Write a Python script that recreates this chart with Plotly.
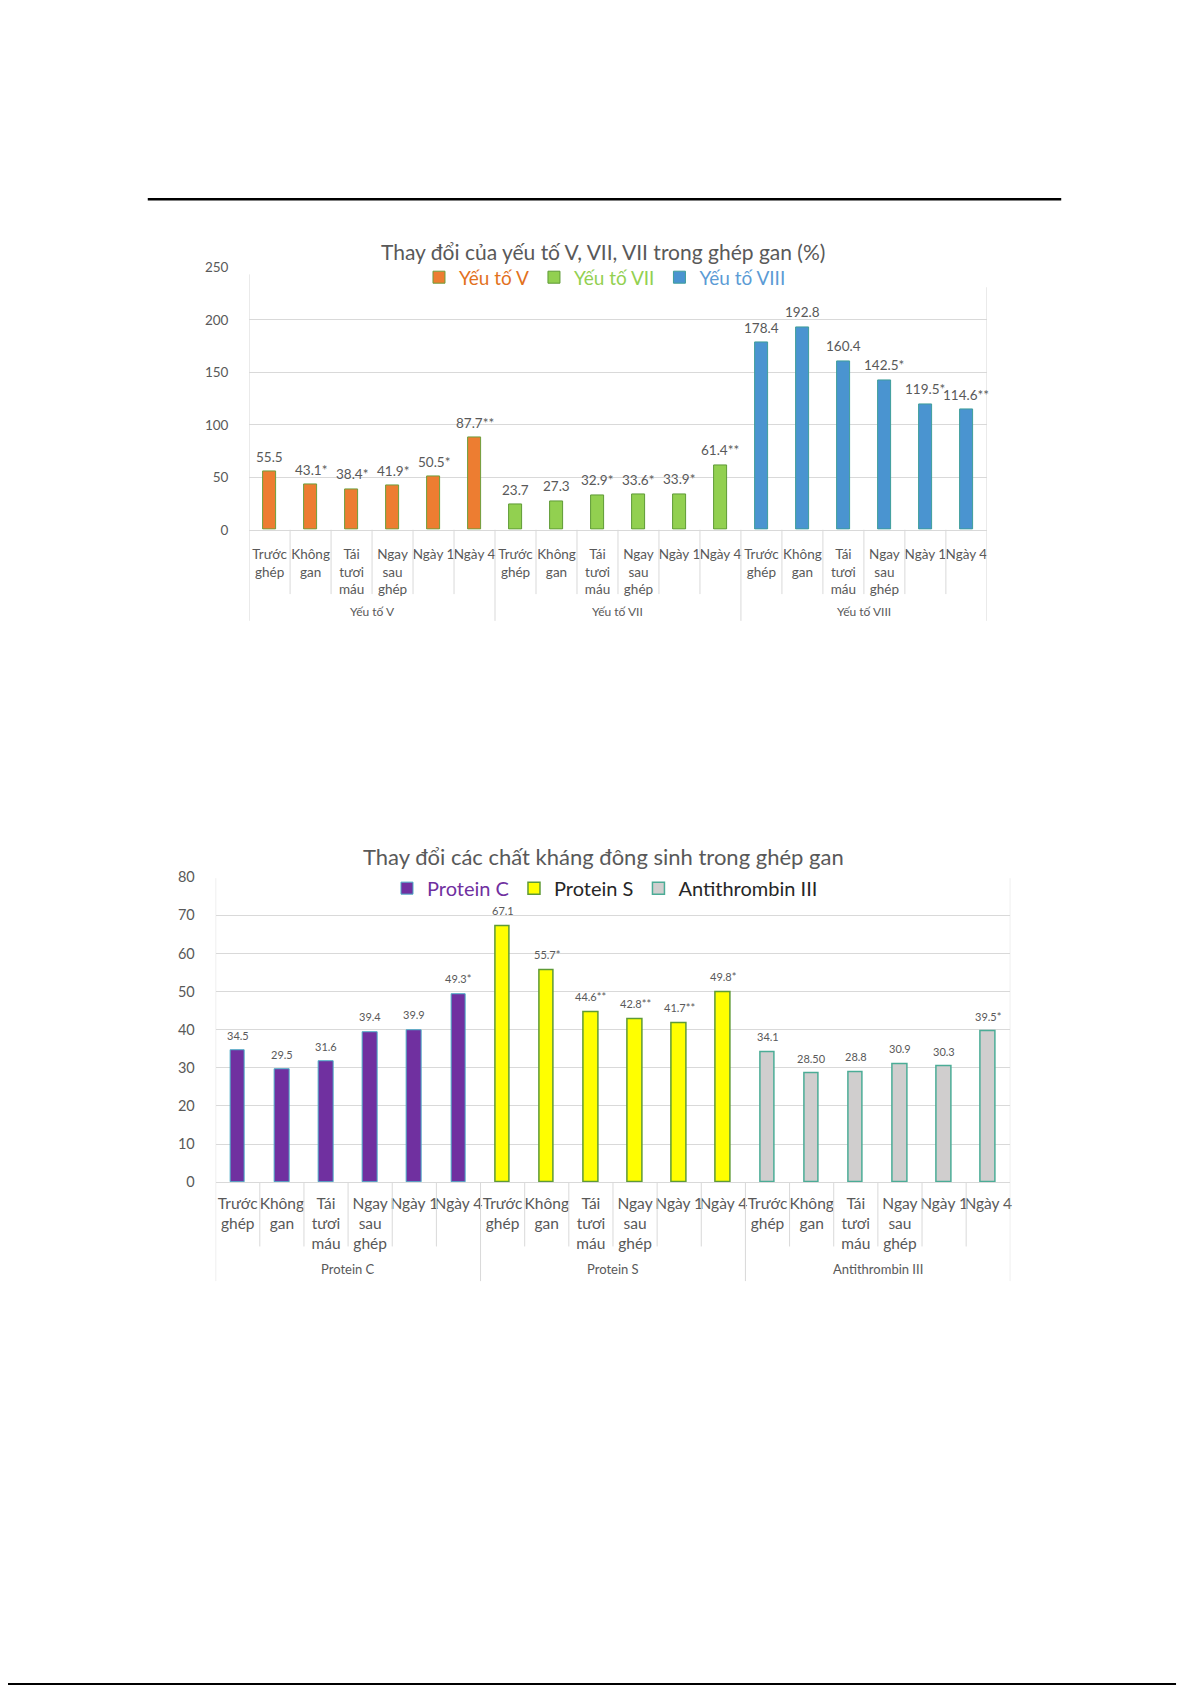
import plotly.graph_objects as go

# ---------------- data ----------------
stages = ["Trước<br>ghép", "Không<br>gan", "Tái<br>tươi<br>máu", "Ngay<br>sau<br>ghép", "Ngày 1", "Ngày 4"]

groups1 = ["Yếu tố V", "Yếu tố VII", "Yếu tố VIII"]
factor_v = [55.5, 43.1, 38.4, 41.9, 50.5, 87.7]
factor_v_lbl = ["55.5", "43.1*", "38.4*", "41.9*", "50.5*", "87.7**"]
factor_vii = [23.7, 27.3, 32.9, 33.6, 33.9, 61.4]
factor_vii_lbl = ["23.7", "27.3", "32.9*", "33.6*", "33.9*", "61.4**"]
factor_viii = [178.4, 192.8, 160.4, 142.5, 119.5, 114.6]
factor_viii_lbl = ["178.4", "192.8", "160.4", "142.5*", "119.5*", "114.6**"]
y1_ticks = [0, 50, 100, 150, 200, 250]

groups2 = ["Protein C", "Protein S", "Antithrombin III"]
protein_c = [34.5, 29.5, 31.6, 39.4, 39.9, 49.3]
protein_c_lbl = ["34.5", "29.5", "31.6", "39.4", "39.9", "49.3*"]
protein_s = [67.1, 55.7, 44.6, 42.8, 41.7, 49.8]
protein_s_lbl = ["67.1", "55.7*", "44.6**", "42.8**", "41.7**", "49.8*"]
antithrombin = [34.1, 28.50, 28.8, 30.9, 30.3, 39.5]
antithrombin_lbl = ["34.1", "28.50", "28.8", "30.9", "30.3", "39.5*"]
y2_ticks = [0, 10, 20, 30, 40, 50, 60, 70, 80]

title1 = "Thay đổi của yếu tố V, VII, VII trong ghép gan (%)"
title2 = "Thay đổi các chất kháng đông sinh trong ghép gan"

# ---------------- page geometry helpers ----------------
W, H = 1192, 1686
def px(p):
    return p / W
def py(p):
    return 1 - p / H

FONT = "Lato"
GRAY = "#595959"
GRID = "#D9D9D9"

n = len(stages)
fig = go.Figure()
annotations = []
shapes = []

def add_series(vals, lbls, g, name, fill, border, bw, xa, ya, legend, tsize, tshift, lcolor):
    xs = [g * n + i for i in range(len(vals))]
    fig.add_trace(go.Bar(
        x=xs, y=vals,
        marker=dict(color=fill, line=dict(color=border, width=bw)),
        width=0.33, xaxis=xa, yaxis=ya, legend=legend,
        name=f"<span style='color:{lcolor}'>{name}</span>",
        hoverinfo="x+y",
    ))
    # data labels, anchored on each bar's value through the axis scale
    for xv, yv, t in zip(xs, vals, lbls):
        annotations.append(dict(x=xv, y=yv, xref=xa, yref=ya, text=t, showarrow=False,
                                yanchor="bottom", yshift=tshift,
                                font=dict(family=FONT, size=tsize, color=GRAY)))

# chart 1
add_series(factor_v, factor_v_lbl, 0, groups1[0], "#ED7D31", "#6E9E3C", 1, "x", "y", "legend", 13.5, 5, "#E2711D")
add_series(factor_vii, factor_vii_lbl, 1, groups1[1], "#92D050", "#5E9A35", 1, "x", "y", "legend", 13.5, 5, "#92D050")
add_series(factor_viii, factor_viii_lbl, 2, groups1[2], "#4A94D0", "#3E9E9A", 1, "x", "y", "legend", 13.5, 5, "#5B9BD5")
# chart 2
add_series(protein_c, protein_c_lbl, 0, groups2[0], "#7030A0", "#4BACC6", 1, "x2", "y2", "legend2", 11, 7, "#7030A0")
add_series(protein_s, protein_s_lbl, 1, groups2[1], "#FFFF00", "#5E9A35", 1.5, "x2", "y2", "legend2", 11, 7, "#262626")
add_series(antithrombin, antithrombin_lbl, 2, groups2[2], "#D0CECE", "#4BAC96", 1.5, "x2", "y2", "legend2", 11, 7, "#262626")

# chart geometry (pixel positions on the page)
c1 = dict(left=241.5, right=980.5, base=518, top=253, catdiv=583, grpdiv=610, grplbl=601, vtop=(260, 273))
c2 = dict(left=208, right=1004, base=1177, top=869, catdiv=1242, grpdiv=1277, grplbl=1265, vtop=(870, 870))

xcommon = dict(range=[-0.5, 3 * n - 0.5], tickvals=list(range(3 * n)), ticktext=stages * 3,
               tickangle=0, showgrid=False, zeroline=False, showline=True, linecolor=GRID, linewidth=1,
               ticks="outside", tickcolor="rgba(0,0,0,0)", fixedrange=True)

fig.update_layout(
    width=W, height=H, margin=dict(l=0, r=0, t=0, b=0),
    paper_bgcolor="white", plot_bgcolor="white",
    barmode="overlay", bargap=0,
    xaxis=dict(domain=[px(c1["left"]), px(c1["right"])], anchor="y", ticklen=12,
               tickfont=dict(family=FONT, size=13.5, color=GRAY), **xcommon),
    yaxis=dict(domain=[py(c1["base"]), py(c1["top"])], anchor="x", range=[0, 250],
               tickvals=y1_ticks, showgrid=False, zeroline=False,
               ticks="outside", tickcolor="rgba(0,0,0,0)", ticklen=17,
               tickfont=dict(family=FONT, size=13.5, color=GRAY),
               minor=dict(tickvals=y1_ticks[:-1], showgrid=True, gridcolor=GRID, gridwidth=1, ticks=""),
               fixedrange=True),
    xaxis2=dict(domain=[px(c2["left"]), px(c2["right"])], anchor="y2", ticklen=7,
                tickfont=dict(family=FONT, size=15.5, color=GRAY), **xcommon),
    yaxis2=dict(domain=[py(c2["base"]), py(c2["top"])], anchor="x2", range=[0, 80],
                tickvals=y2_ticks, showgrid=False, zeroline=False,
                ticks="outside", tickcolor="rgba(0,0,0,0)", ticklen=17,
                tickfont=dict(family=FONT, size=14.5, color=GRAY),
                minor=dict(tickvals=y2_ticks[:-1], showgrid=True, gridcolor=GRID, gridwidth=1, ticks=""),
                fixedrange=True),
    legend=dict(orientation="h", x=px(598), y=py(263), xanchor="center", yanchor="middle",
                font=dict(family=FONT, size=19), itemwidth=30, bgcolor="rgba(0,0,0,0)",
                traceorder="normal", itemclick=False, itemdoubleclick=False),
    legend2=dict(orientation="h", x=px(598), y=py(880), xanchor="center", yanchor="middle",
                 font=dict(family=FONT, size=20), itemwidth=30, bgcolor="rgba(0,0,0,0)",
                 traceorder="normal", itemclick=False, itemdoubleclick=False),
    showlegend=True,
)

for c, xr, groups, tsize in [(c1, "x", groups1, 12), (c2, "x2", groups2, 13)]:
    # group labels
    for g, name in enumerate(groups):
        annotations.append(dict(x=g * n + (n - 1) / 2, xref=xr, y=py(c["grplbl"]), yref="paper",
                                text=name, showarrow=False, yanchor="middle",
                                font=dict(family=FONT, size=tsize, color=GRAY)))
    # category separators
    for k in range(1, 3 * n):
        is_grp = (k % n == 0)
        shapes.append(dict(type="line", xref=xr, yref="paper", x0=k - 0.5, x1=k - 0.5,
                           y0=py(c["base"]), y1=py(c["grpdiv"] if is_grp else c["catdiv"]),
                           line=dict(color=GRID, width=1)))
    # outer verticals
    shapes.append(dict(type="line", xref=xr, yref="paper", x0=-0.5, x1=-0.5,
                       y0=py(c["vtop"][0]), y1=py(c["grpdiv"]), line=dict(color=GRID, width=1)))
    shapes.append(dict(type="line", xref=xr, yref="paper", x0=3 * n - 0.5, x1=3 * n - 0.5,
                       y0=py(c["vtop"][1]), y1=py(c["grpdiv"]), line=dict(color=GRID, width=1)))

annotations.append(dict(x=px(596), y=py(237), xref="paper", yref="paper", text=title1,
                        showarrow=False, yanchor="middle",
                        font=dict(family=FONT, size=21, color=GRAY)))
annotations.append(dict(x=px(596), y=py(848), xref="paper", yref="paper", text=title2,
                        showarrow=False, yanchor="middle",
                        font=dict(family=FONT, size=22, color=GRAY)))

# page rules
shapes.append(dict(type="line", xref="paper", yref="paper", x0=px(140), x1=px(1055),
                   y0=py(184), y1=py(184), line=dict(color="black", width=2.5)))
shapes.append(dict(type="line", xref="paper", yref="paper", x0=px(0), x1=px(1170),
                   y0=py(1684), y1=py(1684), line=dict(color="black", width=2)))

fig.update_layout(annotations=annotations, shapes=shapes)
fig.write_html("out.html")
